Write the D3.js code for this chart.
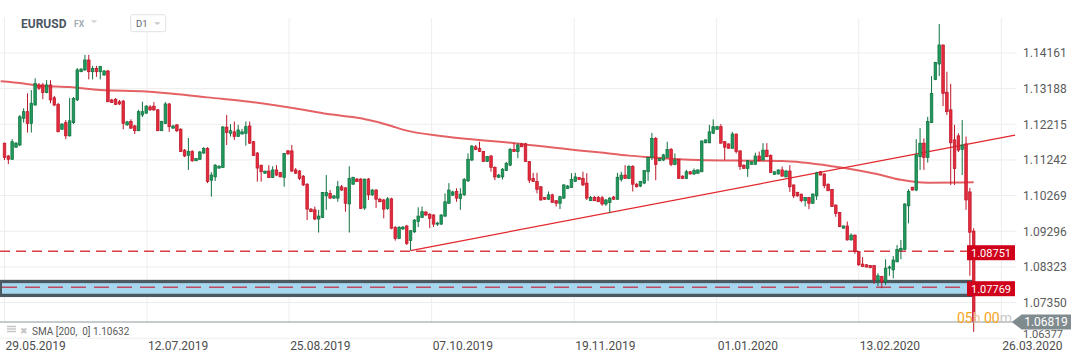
<!DOCTYPE html>
<html>
<head>
<meta charset="utf-8">
<script src="https://cdn.jsdelivr.net/npm/d3@7"></script>
<style>
  body { margin: 0; background: #fff; }
  svg { display: block; font-family: Roboto, "Open Sans", sans-serif; }
</style>
</head>
<body>
<svg id="vis" width="1082" height="364"></svg>
<script>
// daily EURUSD candles, 29.05.2019 .. 19.03.2020 (sunday candles included)
const open = [
  1.1170,1.1135,1.1126,1.1159,1.1165,1.1238,1.1256,1.1224,1.1274,1.1329,
  1.1329,1.1308,1.1329,1.1294,1.1276,1.1208,1.1226,1.1190,1.1226,1.1288,
  1.1365,1.1370,1.1397,1.1365,1.1374,1.1365,1.1356,1.1367,1.1288,1.1290,
  1.1283,1.1285,1.1220,1.1229,1.1217,1.1204,1.1247,1.1252,1.1269,1.1271,
  1.1261,1.1204,1.1224,1.1277,1.1211,1.1220,1.1208,1.1151,1.1137,1.1147,
  1.1122,1.1126,1.1143,1.1156,1.1069,1.1078,1.1102,1.1104,1.1214,1.1197,
  1.1201,1.1188,1.1195,1.1197,1.1217,1.1174,1.1143,1.1110,1.1088,1.1094,
  1.1076,1.1097,1.1090,1.1076,1.1149,1.1149,1.1097,1.1094,1.1080,1.1058,
  1.0990,1.0988,1.0963,1.0967,1.1026,1.1033,1.1020,1.1020,1.1051,1.1048,
  1.1004,1.1058,1.1072,1.1072,1.0993,1.1072,1.1029,1.1042,1.1017,1.1015,
  1.0992,1.1018,1.0940,1.0910,1.0936,1.0944,1.0904,1.0928,1.0956,1.0967,
  1.0982,1.0976,1.0974,1.0949,1.0949,1.0971,1.1006,1.1028,1.1038,1.1019,
  1.1029,1.1067,1.1124,1.1160,1.1156,1.1147,1.1120,1.1135,1.1104,1.1077,
  1.1078,1.1095,1.1110,1.1153,1.1147,1.1168,1.1168,1.1120,1.1074,1.1065,
  1.1051,1.1022,1.1017,1.1029,1.1013,1.1006,1.1020,1.1046,1.1049,1.1065,
  1.1076,1.1074,1.1061,1.1013,1.1022,1.1022,1.1021,1.1004,1.1008,1.1023,
  1.1017,1.1071,1.1083,1.1074,1.1106,1.1058,1.1053,1.1061,1.1092,1.1131,
  1.1183,1.1122,1.1124,1.1131,1.1153,1.1112,1.1126,1.1080,1.1074,1.1092,
  1.1086,1.1088,1.1092,1.1171,1.1171,1.1197,1.1208,1.1215,1.1174,1.1168,
  1.1156,1.1195,1.1149,1.1110,1.1101,1.1112,1.1112,1.1135,1.1124,1.1151,
  1.1137,1.1085,1.1086,1.1097,1.1078,1.1094,1.1056,1.1036,1.1031,1.1013,
  1.1022,1.1006,1.1026,1.1092,1.1086,1.1058,1.1044,1.1001,1.0981,1.0938,
  1.0944,1.0906,1.0919,1.0874,1.0840,1.0838,1.0836,1.0836,1.0795,1.0806,
  1.0792,1.0829,1.0824,1.0846,1.0878,1.0880,1.0999,1.1050,1.1042,1.1133,
  1.1170,1.1131,1.1226,1.1344,1.1386,1.1438,1.1309,1.1261,1.1179,1.1190,
  1.1153,1.1168,1.1037,1.0930
];
const high = [
  1.1171,1.1138,1.1181,1.1173,1.1247,1.1265,1.1306,1.1315,1.1347,1.1334,
  1.1334,1.1342,1.1342,1.1299,1.1280,1.1225,1.1233,1.1293,1.1296,1.1375,
  1.1375,1.1411,1.1411,1.1381,1.1381,1.1381,1.1370,1.1370,1.1291,1.1293,
  1.1288,1.1288,1.1231,1.1235,1.1220,1.1261,1.1283,1.1274,1.1274,1.1282,
  1.1263,1.1231,1.1282,1.1280,1.1220,1.1222,1.1211,1.1154,1.1184,1.1151,
  1.1129,1.1149,1.1159,1.1159,1.1091,1.1113,1.1110,1.1217,1.1247,1.1222,
  1.1229,1.1220,1.1209,1.1229,1.1229,1.1176,1.1146,1.1111,1.1094,1.1110,
  1.1107,1.1110,1.1091,1.1143,1.1151,1.1165,1.1102,1.1097,1.1083,1.1061,
  1.0993,1.0997,1.0988,1.1037,1.1083,1.1042,1.1029,1.1067,1.1056,1.1050,
  1.1107,1.1078,1.1075,1.1075,1.1073,1.1075,1.1045,1.1045,1.1021,1.1018,
  1.1023,1.1021,1.0944,1.0944,1.0944,1.0947,1.0933,1.0963,1.0995,1.0997,
  1.0985,1.0979,1.0976,1.0955,1.0976,1.1033,1.1061,1.1040,1.1047,1.1047,
  1.1075,1.1142,1.1165,1.1165,1.1174,1.1149,1.1135,1.1138,1.1107,1.1086,
  1.1102,1.1119,1.1157,1.1171,1.1170,1.1171,1.1171,1.1121,1.1089,1.1089,
  1.1053,1.1023,1.1038,1.1032,1.1015,1.1026,1.1058,1.1056,1.1088,1.1089,
  1.1077,1.1092,1.1088,1.1026,1.1026,1.1026,1.1026,1.1018,1.1023,1.1026,
  1.1089,1.1092,1.1110,1.1110,1.1110,1.1061,1.1067,1.1097,1.1132,1.1198,
  1.1187,1.1129,1.1141,1.1174,1.1157,1.1142,1.1127,1.1082,1.1097,1.1094,
  1.1101,1.1098,1.1177,1.1180,1.1220,1.1235,1.1217,1.1222,1.1176,1.1169,
  1.1201,1.1196,1.1150,1.1112,1.1124,1.1120,1.1144,1.1147,1.1170,1.1170,
  1.1139,1.1093,1.1098,1.1106,1.1097,1.1110,1.1057,1.1037,1.1032,1.1023,
  1.1023,1.1033,1.1092,1.1094,1.1087,1.1060,1.1045,1.1003,1.0982,1.0945,
  1.0956,1.0924,1.0921,1.0876,1.0859,1.0840,1.0837,1.0837,1.0815,1.0808,
  1.0853,1.0836,1.0862,1.0892,1.0906,1.1006,1.1044,1.1050,1.1181,1.1211,
  1.1183,1.1242,1.1353,1.1392,1.1495,1.1439,1.1365,1.1332,1.1220,1.1197,
  1.1233,1.1188,1.1048,1.0938
];
const low = [
  1.1124,1.1113,1.1124,1.1157,1.1162,1.1226,1.1199,1.1199,1.1273,1.1315,
  1.1290,1.1306,1.1279,1.1271,1.1200,1.1206,1.1181,1.1188,1.1222,1.1285,
  1.1364,1.1367,1.1344,1.1344,1.1351,1.1344,1.1354,1.1282,1.1280,1.1274,
  1.1274,1.1208,1.1217,1.1209,1.1195,1.1203,1.1241,1.1250,1.1258,1.1258,
  1.1203,1.1203,1.1222,1.1201,1.1209,1.1200,1.1146,1.1132,1.1097,1.1119,
  1.1121,1.1124,1.1141,1.1061,1.1024,1.1067,1.1100,1.1102,1.1165,1.1188,
  1.1179,1.1187,1.1194,1.1163,1.1168,1.1135,1.1065,1.1065,1.1086,1.1075,
  1.1075,1.1080,1.1077,1.1051,1.1138,1.1091,1.1086,1.1069,1.1053,1.0960,
  1.0982,1.0960,1.0926,1.0966,1.0988,1.1018,1.1018,1.1010,1.1040,1.0983,
  1.0926,1.1056,1.1064,1.0990,1.0988,1.1015,1.1026,1.0993,1.1009,1.0965,
  1.0988,1.0935,1.0904,1.0908,1.0933,1.0892,1.0877,1.0925,1.0941,1.0966,
  1.0971,1.0938,1.0941,1.0944,1.0947,1.0968,1.1004,1.1026,1.1010,1.0988,
  1.1026,1.1064,1.1121,1.1151,1.1146,1.1119,1.1119,1.1092,1.1069,1.1075,
  1.1071,1.1094,1.1107,1.1146,1.1129,1.1160,1.1119,1.1061,1.1064,1.1033,
  1.1013,1.1015,1.1015,1.1007,1.0997,1.0990,1.1018,1.1045,1.1048,1.1064,
  1.1069,1.1053,1.1015,1.1012,1.1012,1.1010,1.0999,1.0999,1.0979,1.1015,
  1.1015,1.1065,1.1073,1.1072,1.1038,1.1049,1.1050,1.1058,1.1067,1.1124,
  1.1069,1.1121,1.1121,1.1129,1.1107,1.1110,1.1073,1.1072,1.1072,1.1084,
  1.1083,1.1086,1.1091,1.1170,1.1170,1.1195,1.1206,1.1169,1.1124,1.1156,
  1.1155,1.1142,1.1097,1.1101,1.1078,1.1112,1.1111,1.1121,1.1123,1.1132,
  1.1090,1.1084,1.1084,1.1079,1.1077,1.1037,1.1020,1.1024,1.1009,1.0997,
  1.0990,1.1004,1.1015,1.1082,1.1047,1.1040,1.0996,1.0969,1.0941,1.0937,
  1.0904,1.0904,1.0868,1.0835,1.0832,1.0831,1.0829,1.0786,1.0780,1.0774,
  1.0783,1.0808,1.0801,1.0846,1.0853,1.0878,1.0951,1.1041,1.1039,1.1097,
  1.1097,1.1117,1.1225,1.1342,1.1353,1.1271,1.1247,1.1056,1.1056,1.1146,
  1.1083,1.0988,1.0808,1.0655
];
const close = [
  1.1131,1.1126,1.1174,1.1170,1.1242,1.1256,1.1224,1.1279,1.1333,1.1320,
  1.1308,1.1329,1.1288,1.1274,1.1201,1.1222,1.1190,1.1231,1.1292,1.1370,
  1.1372,1.1397,1.1365,1.1374,1.1365,1.1379,1.1367,1.1283,1.1281,1.1276,
  1.1277,1.1224,1.1228,1.1211,1.1204,1.1256,1.1256,1.1271,1.1261,1.1261,
  1.1204,1.1229,1.1277,1.1215,1.1217,1.1204,1.1147,1.1135,1.1147,1.1122,
  1.1128,1.1146,1.1156,1.1065,1.1083,1.1110,1.1107,1.1214,1.1199,1.1204,
  1.1188,1.1206,1.1201,1.1215,1.1170,1.1136,1.1102,1.1092,1.1094,1.1076,
  1.1097,1.1083,1.1078,1.1142,1.1141,1.1094,1.1088,1.1074,1.1056,1.0990,
  1.0983,1.0963,1.0971,1.1035,1.1035,1.1020,1.1026,1.1051,1.1042,1.1006,
  1.1074,1.1077,1.1065,1.0992,1.1072,1.1029,1.1042,1.1017,1.1010,1.0990,
  1.1018,1.0938,1.0910,1.0940,1.0941,1.0896,1.0931,1.0960,1.0971,1.0983,
  1.0974,1.0965,1.0949,1.0952,1.0974,1.1010,1.1042,1.1037,1.1020,1.1031,
  1.1071,1.1126,1.1162,1.1153,1.1147,1.1120,1.1134,1.1104,1.1078,1.1083,
  1.1099,1.1115,1.1153,1.1147,1.1165,1.1160,1.1120,1.1069,1.1065,1.1044,
  1.1015,1.1017,1.1029,1.1008,1.1006,1.1024,1.1056,1.1053,1.1071,1.1078,
  1.1071,1.1056,1.1020,1.1022,1.1013,1.1010,1.1004,1.1015,1.1020,1.1017,
  1.1077,1.1083,1.1074,1.1106,1.1058,1.1051,1.1065,1.1095,1.1131,1.1183,
  1.1112,1.1128,1.1138,1.1153,1.1112,1.1124,1.1074,1.1074,1.1092,1.1086,
  1.1095,1.1097,1.1176,1.1179,1.1201,1.1215,1.1215,1.1170,1.1159,1.1156,
  1.1195,1.1147,1.1106,1.1101,1.1122,1.1119,1.1135,1.1122,1.1151,1.1133,
  1.1090,1.1092,1.1097,1.1080,1.1094,1.1051,1.1026,1.1026,1.1013,1.1022,
  1.1006,1.1031,1.1089,1.1083,1.1054,1.1040,1.0997,1.0978,1.0942,1.0944,
  1.0906,1.0919,1.0874,1.0838,1.0833,1.0832,1.0830,1.0797,1.0808,1.0792,
  1.0829,1.0832,1.0851,1.0880,1.0883,1.1004,1.1038,1.1042,1.1138,1.1170,
  1.1131,1.1229,1.1306,1.1390,1.1438,1.1306,1.1256,1.1171,1.1101,1.1151,
  1.1165,1.1015,1.0927,1.0682
];

// SMA(200) read at a few candle positions
const smaIdx = [-1, 5, 9, 17, 25, 37, 46, 53, 64, 78, 84, 93, 101, 104, 115, 133, 150, 155, 163, 168, 181, 195, 203, 216, 228, 234, 241, 253];
const smaVal = [1.1339, 1.1333, 1.1327, 1.1323, 1.1315, 1.1311, 1.1303, 1.1295, 1.1283, 1.1261, 1.1250, 1.1238, 1.1217, 1.1207, 1.1188, 1.1170, 1.1150, 1.1145, 1.1136, 1.1132, 1.1124, 1.1122, 1.1121, 1.1107, 1.1085, 1.1070, 1.1062, 1.1063];

// trend line (candle index, price)
const trendIdx = [106, 263.8];
const trendVal = [1.0877, 1.1192];

const priceTicks = [1.14161, 1.13188, 1.12215, 1.11242, 1.10269, 1.09296, 1.08323, 1.07350, 1.06377];
const dateLabels = ["29.05.2019", "12.07.2019", "25.08.2019", "07.10.2019", "19.11.2019", "01.01.2020", "13.02.2020", "26.03.2020"];
const dateIdx = [0, 37.2, 74.3, 111.5, 148.7, 185.9, 223.0, 260.2];

const resistLevel = 1.08751;
const supportLevel = 1.07769;
const supportZone = [1.0750, 1.0797];
const lastPrice = 1.06819;
const smaLast = "1.10632";

var width = 1082, height = 364;
var plot = { left: 0, right: 1016, top: 18, bottom: 323 };

var svg = d3.select("#vis");

var x = d3.scaleLinear().domain([0, close.length - 1]).range([4.5, 973.7]);
var y = d3.scaleLinear().domain([1.06377, 1.14161]).range([338.2, 53]);

var gGrid = svg.append("g");
var gZone = svg.append("g");
var gLines = svg.append("g");
var gCandles = svg.append("g");
var gLabels = svg.append("g");

// grid
gGrid.selectAll("line.h").data(priceTicks).enter().append("line")
    .attr("x1", plot.left).attr("x2", plot.right)
    .attr("y1", d => y(d)).attr("y2", d => y(d))
    .attr("stroke", "#ededed").attr("stroke-width", 1);

gGrid.selectAll("line.v").data(dateIdx).enter().append("line")
    .attr("x1", d => x(d)).attr("x2", d => x(d))
    .attr("y1", plot.top).attr("y2", plot.bottom)
    .attr("stroke", "#ededed").attr("stroke-width", 1);

// support zone
gZone.append("rect")
    .attr("x", 0).attr("width", 973.3)
    .attr("y", y(supportZone[1])).attr("height", y(supportZone[0]) - y(supportZone[1]))
    .attr("fill", "#4a5860");
gZone.append("rect")
    .attr("x", 2).attr("width", 968)
    .attr("y", y(supportZone[1]) + 3.3).attr("height", y(supportZone[0]) - y(supportZone[1]) - 6.6)
    .attr("fill", "#a6d7ef");
gZone.append("line")
    .attr("x1", 2).attr("x2", 967)
    .attr("y1", y(supportLevel)).attr("y2", y(supportLevel))
    .attr("stroke", "#bd4a62").attr("stroke-width", 1.5)
    .attr("stroke-dasharray", "15,8");

// resistance dashed line
gLines.append("line")
    .attr("x1", 0).attr("x2", 967)
    .attr("y1", y(resistLevel)).attr("y2", y(resistLevel))
    .attr("stroke", "#dc3d47").attr("stroke-width", 1.4)
    .attr("stroke-dasharray", "10,6");

// sma line
var smaLine = d3.line()
    .x((d, i) => x(smaIdx[i]))
    .y(d => y(d))
    .curve(d3.curveMonotoneX);
gLines.append("path")
    .attr("d", smaLine(smaVal))
    .attr("fill", "none")
    .attr("stroke", "#dd3b3f").attr("stroke-opacity", 0.8)
    .attr("stroke-width", 2);

// trend line
gLines.append("line")
    .attr("x1", x(trendIdx[0])).attr("y1", y(trendVal[0]))
    .attr("x2", x(trendIdx[1])).attr("y2", y(trendVal[1]))
    .attr("stroke", "#e3262b").attr("stroke-width", 1.3);

// candles
var up = { fill: "#1f9a5c", line: "#10703e" };
var down = { fill: "#e42b3b", line: "#bd1529" };

var candle = gCandles.selectAll("g.candle")
    .data(d3.range(close.length))
    .enter().append("g");

candle.append("line")
    .attr("x1", i => x(i)).attr("x2", i => x(i))
    .attr("y1", i => y(high[i])).attr("y2", i => y(low[i]))
    .attr("stroke", i => close[i] >= open[i] ? up.line : down.line)
    .attr("stroke-width", 1);

candle.append("rect")
    .attr("x", i => x(i) - 1.3)
    .attr("width", 2.6)
    .attr("y", i => y(Math.max(open[i], close[i])))
    .attr("height", i => Math.max(0.8, Math.abs(y(open[i]) - y(close[i]))))
    .attr("fill", i => close[i] >= open[i] ? up.fill : down.fill)
    .attr("stroke", i => close[i] >= open[i] ? up.line : down.line)
    .attr("stroke-width", 0.7);

// current price line
gLabels.append("line")
    .attr("x1", 0).attr("x2", 1012)
    .attr("y1", y(lastPrice)).attr("y2", y(lastPrice))
    .attr("stroke", "#8d979b").attr("stroke-width", 1);

// price axis labels (the lowest one is squeezed under the price tag)
gLabels.selectAll("text.price").data(priceTicks).enter().append("text")
    .attr("x", 1023)
    .attr("y", d => Math.min(y(d) + 4.3, 337.6))
    .attr("font-size", d => y(d) + 4.3 > 337.6 ? 11 : 12)
    .attr("fill", "#5b5b5b")
    .text(d => d.toFixed(5));

// date labels
gLabels.selectAll("text.date").data(dateLabels).enter().append("text")
    .attr("x", (d, i) => x(dateIdx[i]) + 1)
    .attr("y", 349.5)
    .attr("font-size", 12)
    .attr("fill", "#4d4d4d")
    .text(d => d);

// level tags
function levelTag(price) {
    let cy = y(price) + 1.5;
    gLabels.append("rect")
        .attr("x", 967).attr("y", cy - 7.5)
        .attr("width", 48).attr("height", 15)
        .attr("fill", "#d0021b");
    gLabels.append("text")
        .attr("x", 991).attr("y", cy + 4)
        .attr("text-anchor", "middle")
        .attr("font-size", 11)
        .attr("fill", "#fff")
        .text(price.toFixed(5));
}
levelTag(resistLevel);
levelTag(supportLevel);

// countdown
var cd = gLabels.append("text")
    .attr("x", 957).attr("y", y(lastPrice) + 1)
    .attr("font-size", 14)
    .style("white-space", "pre");
cd.append("tspan").attr("fill", "#f6a31c").text("05");
cd.append("tspan").attr("fill", "#ebc998").text("h");
cd.append("tspan").attr("fill", "#f6a31c").text(" 00");
cd.append("tspan").attr("fill", "#c9c9c9").text("m");

// last price tag
var ly = y(lastPrice);
gLabels.append("path")
    .attr("d", "M1011.7," + ly + "L1021.7," + (ly - 7.5) + "H1071V" + (ly + 7.5) + "H1021.7Z")
    .attr("fill", "#808b90");
gLabels.append("text")
    .attr("x", 1046).attr("y", ly + 4.3)
    .attr("text-anchor", "middle")
    .attr("font-size", 12)
    .attr("fill", "#fff")
    .text(lastPrice.toFixed(5));

// indicator legend
[326.5, 329, 331.5].forEach(function(v) {
    gLabels.append("line")
        .attr("x1", 7).attr("x2", 16)
        .attr("y1", v).attr("y2", v)
        .attr("stroke", "#c4c4c4").attr("stroke-width", 1.4);
});
gLabels.append("text")
    .attr("x", 20).attr("y", 334)
    .attr("font-size", 9)
    .attr("fill", "#c4c4c4")
    .text("\u2716");
gLabels.append("text")
    .attr("x", 32).attr("y", 335)
    .attr("font-size", 10)
    .attr("fill", "#5a5a5a")
    .style("white-space", "pre")
    .text("SMA [200,  0] " + smaLast);

// header
var head = svg.append("g");
head.append("text")
    .attr("x", 21).attr("y", 27.5)
    .attr("font-size", 12).attr("font-weight", "bold")
    .attr("fill", "#4b5661")
    .text("EURUSD");
head.append("text")
    .attr("x", 74).attr("y", 26.8)
    .attr("font-size", 8.5).attr("font-weight", "bold")
    .attr("fill", "#a3acb4")
    .text("FX");
head.append("path")
    .attr("d", "M90.7,20.3H97.3L94,23.3Z")
    .attr("fill", "#cfd4d8");
head.append("rect")
    .attr("x", 130.7).attr("y", 14.7)
    .attr("width", 35).attr("height", 17).attr("rx", 2)
    .attr("fill", "#fff").attr("stroke", "#dfe3e6");
head.append("text")
    .attr("x", 136).attr("y", 26.7)
    .attr("font-size", 9.5)
    .attr("fill", "#5a6570")
    .text("D1");
head.append("path")
    .attr("d", "M154,22.3H160.7L157.3,25Z")
    .attr("fill", "#c5cacd");
</script>
</body>
</html>
